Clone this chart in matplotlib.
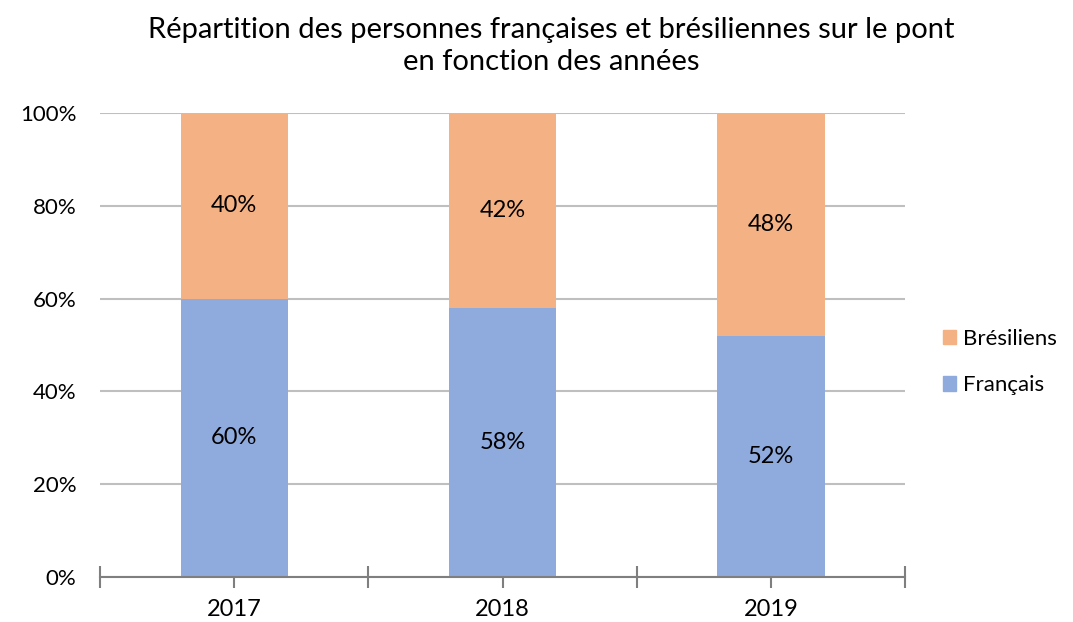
import matplotlib
matplotlib.use("Agg")
import matplotlib.pyplot as plt
from matplotlib.patches import Patch

years = ["2017", "2018", "2019"]
francais = [60, 58, 52]
bresiliens = [40, 42, 48]
yticks = [0, 20, 40, 60, 80, 100]
ytick_labels = ["0%", "20%", "40%", "60%", "80%", "100%"]
title = "Répartition des personnes françaises et brésiliennes sur le pont\nen fonction des années"

c_fr = "#8FAADC"
c_br = "#F4B183"

plt.rcParams['font.family'] = ['Lato', 'DejaVu Sans']

fig = plt.figure(figsize=(10.73, 6.22), dpi=100)
W, H = 1073, 622
ax = fig.add_axes([100 / W, (H - 577) / H, (905 - 100) / W, (577 - 113) / H])

x = list(range(len(years)))
width = 0.40
ax.bar(x, francais, width, color=c_fr, zorder=2)
ax.bar(x, bresiliens, width, bottom=francais, color=c_br, zorder=2)

for i in x:
    ax.text(i, francais[i] / 2, f"{francais[i]}%", ha="center", va="center", fontsize=17, color="black", zorder=3)
    ax.text(i, francais[i] + bresiliens[i] / 2, f"{bresiliens[i]}%", ha="center", va="center", fontsize=17, color="black", zorder=3)

ax.set_xlim(-0.5, len(years) - 0.5)
ax.set_ylim(0, 100)
ax.set_yticks(yticks)
ax.set_yticklabels(ytick_labels, fontsize=16)
ax.yaxis.grid(True, color="#BFBFBF", linewidth=1.5, zorder=0)
ax.set_axisbelow(True)
ax.tick_params(axis="y", length=0, pad=17)

ax.set_xticks(x)
ax.set_xticklabels(years, fontsize=17)
ax.set_xticks([-0.5, 0.5, 1.5, 2.5], minor=True)
ax.tick_params(axis="x", which="both", direction="inout", length=16, width=1.5, color="#7F7F7F", pad=8)

for s in ["top", "right", "left"]:
    ax.spines[s].set_visible(False)
ax.spines["bottom"].set_color("#7F7F7F")
ax.spines["bottom"].set_linewidth(1.5)
ax.spines["bottom"].set_zorder(4)

fig.text(551 / W, 1 - 46 / H, title, ha="center", va="center", fontsize=21, linespacing=1.3)

handles = [Patch(color=c_br, label="Brésiliens"), Patch(color=c_fr, label="Français")]
fig.legend(handles=handles, loc="center left", bbox_to_anchor=(943 / W, 1 - 362 / H),
           frameon=False, fontsize=16, handlelength=0.6, handleheight=0.6,
           handletextpad=0.3, labelspacing=1.2, borderpad=0, borderaxespad=0)

fig.savefig("out.png", dpi=100)
